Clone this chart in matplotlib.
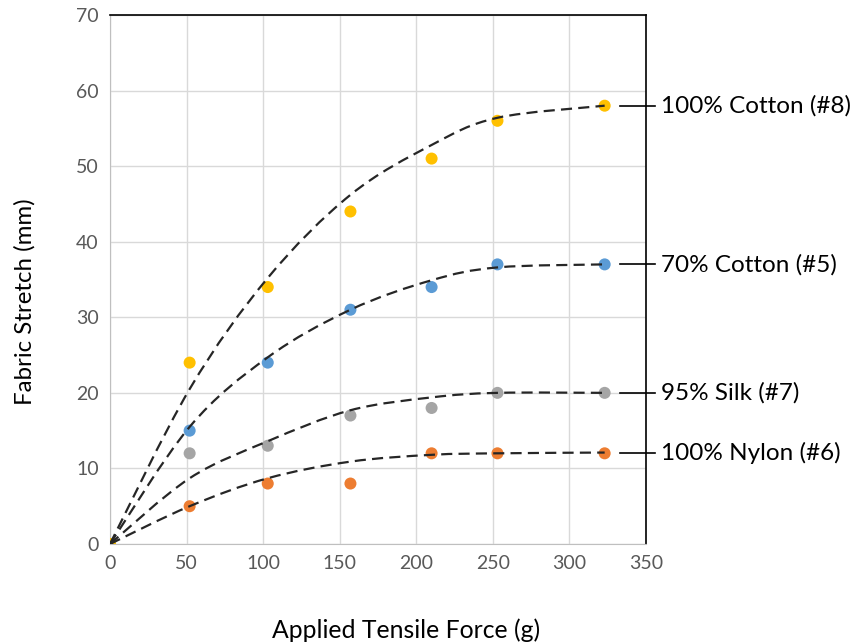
import numpy as np
import matplotlib
matplotlib.use("Agg")
import matplotlib.pyplot as plt
from matplotlib.path import Path
from matplotlib.patches import PathPatch
from matplotlib.transforms import blended_transform_factory

force = [0, 52, 103, 157, 210, 253, 323]
cotton100 = [0, 24, 34, 44, 51, 56, 58]
cotton70 = [0, 15, 24, 31, 34, 37, 37]
silk95 = [0, 12, 13, 17, 18, 20, 20]
nylon100 = [0, 5, 8, 8, 12, 12, 12]
# trend-curve values at each force value
cotton100_trend = [0, 20.5, 35.2, 46.2, 52.8, 56.4, 58]
cotton70_trend = [0, 15.5, 24.7, 31, 34.9, 36.6, 37]
silk95_trend = [0, 8.7, 13.6, 17.7, 19.4, 20, 20]
nylon100_trend = [0, 5, 8.7, 10.9, 11.8, 12, 12.1]

names = ["100% Cotton (#8)", "70% Cotton (#5)", "95% Silk (#7)", "100% Nylon (#6)"]
colors = ["#FFC000", "#5B9BD5", "#A5A5A5", "#ED7D31"]
series = [cotton100, cotton70, silk95, nylon100]
trends = [cotton100_trend, cotton70_trend, silk95_trend, nylon100_trend]

plt.rcParams['font.family'] = ['Lato', 'DejaVu Sans']

fig = plt.figure(figsize=(8.55, 6.42), dpi=100)
ax = fig.add_axes([110/855, 1-544/642, 536/855, 529/642])


def smooth_path(xv, yv):
    # Excel-style smoothed line (Catmull-Rom as cubic Bezier segments)
    P = np.column_stack([xv, yv]).astype(float)
    n = len(P)
    verts = [P[0]]
    codes = [Path.MOVETO]
    for i in range(n - 1):
        p0 = P[i - 1] if i > 0 else P[i]
        p1 = P[i]
        p2 = P[i + 1]
        p3 = P[i + 2] if i + 2 < n else P[i + 1]
        c1 = p1 + (p2 - p0) / 6.0
        c2 = p2 - (p3 - p1) / 6.0
        verts += [c1, c2, p2]
        codes += [Path.CURVE4] * 3
    return Path(verts, codes)


for vals, tr_vals, col in zip(series[::-1], trends[::-1], colors[::-1]):
    ax.scatter(force, vals, s=75, color=col, zorder=3, edgecolors='none')
    patch = PathPatch(smooth_path(force, tr_vals), facecolor='none', edgecolor='#262626',
                      lw=1.6, ls=(0, (5, 2.8)), zorder=4)
    ax.add_patch(patch)

ax.set_xlim(0, 350)
ax.set_ylim(0, 70)
ax.set_xticks(range(0, 351, 50))
ax.set_yticks(range(0, 71, 10))
ax.grid(True, color='#D9D9D9', lw=1)
ax.set_axisbelow(True)
ax.tick_params(length=0, labelsize=14, labelcolor='#595959', pad=8)
for s in ['left', 'bottom']:
    ax.spines[s].set_color('#BFBFBF')
for s in ['top', 'right']:
    ax.spines[s].set_color('#000000')
    ax.spines[s].set_linewidth(1.2)

fig.text(406/855, 1-630/642, "Applied Tensile Force (g)", fontsize=17.8, color='#000000',
         ha='center', va='center')
fig.text(25/855, 1-302/642, "Fabric Stretch (mm)", fontsize=17.3, color='#000000',
         ha='center', va='center', rotation=90)

tr = blended_transform_factory(ax.transAxes, ax.transData)
for vals, name in zip(series, names):
    yv = vals[-1]
    ax.plot([0.951, 1.017], [yv, yv], transform=tr, color='#000000', lw=1.2, clip_on=False)
    ax.text(1.028, yv, name, transform=tr, va='center', ha='left', fontsize=17.5, color='#000000')

fig.savefig("out.png", dpi=100)
